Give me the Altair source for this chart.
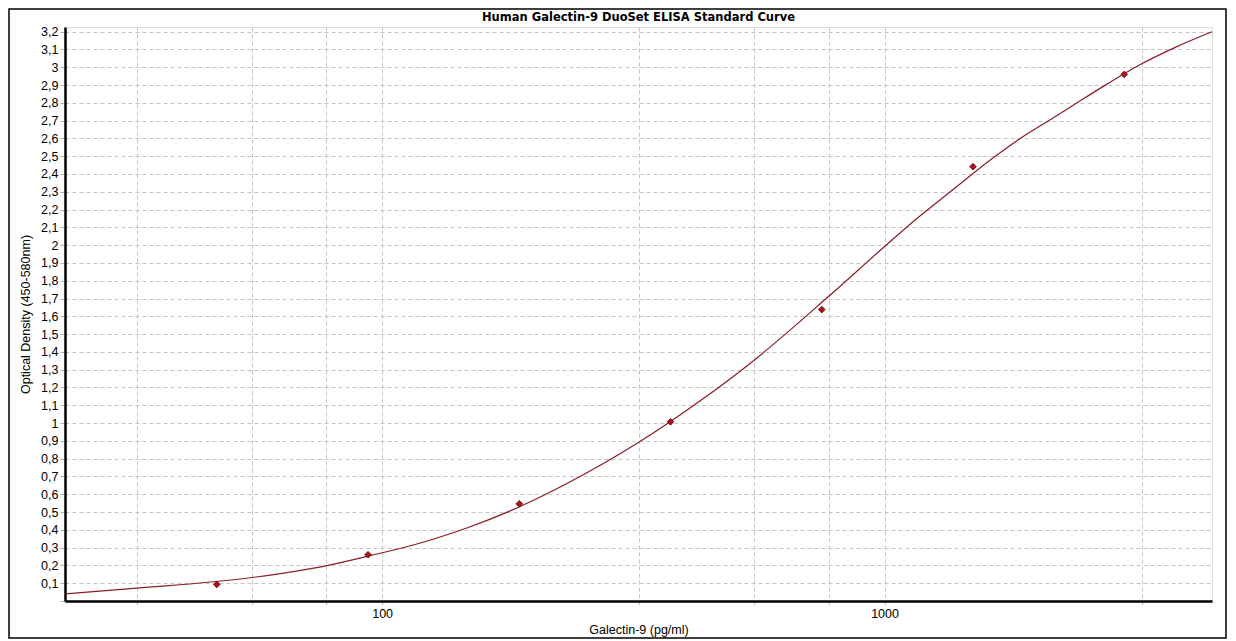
import altair as alt
import pandas as pd

# Standards (concentration pg/ml, OD)
std_conc = [46.875, 93.75, 187.5, 375, 750, 1500, 3000]
std_od = [0.093, 0.260, 0.546, 1.007, 1.638, 2.441, 2.960]

# Fitted curve
curve_conc = [23.4, 32.5, 55.1, 77.7, 100, 108.6, 147.4, 187.2, 233.2, 326, 429.7,
              551, 773.5, 1000, 1160, 1291, 1415, 1648, 1863, 2137, 2416, 2772, 3229, 3800, 4485]
curve_od = [0.040, 0.072, 0.132, 0.199, 0.271, 0.295, 0.410, 0.528, 0.660, 0.896, 1.125,
            1.355, 1.711, 1.992, 2.150, 2.255, 2.345, 2.492, 2.600, 2.705, 2.800, 2.905, 3.015, 3.113, 3.199]

x_grid = [32.5, 55, 77.5, 100, 325, 550, 775, 1000, 3250]
y_ticks = [round(0.1 * i, 1) for i in range(0, 33)]

title = "Human Galectin-9 DuoSet ELISA Standard Curve"
x_title = "Galectin-9 (pg/ml)"
y_title = "Optical Density (450-580nm)"

pts = pd.DataFrame({"conc": std_conc, "od": std_od})
crv = pd.DataFrame({"conc": curve_conc, "od": curve_od})

W, H = 1147, 574
xdom = [23.38, 4485]
ydom = [0, 3.226]

xscale = alt.Scale(type="log", domain=xdom, nice=False, zero=False)
yscale = alt.Scale(domain=ydom, nice=False, zero=False)

label_expr_x = "indexof([100,1000], datum.value) >= 0 ? format(datum.value, 'd') : ''"
label_expr_y = "datum.value == 0 ? '' : replace(format(datum.value, '.1~f'), '.', ',')"


def x_axis():
    return alt.Axis(values=x_grid, labelExpr=label_expr_x, grid=True, gridDash=[4, 3],
                    gridColor="#c4c4c4", gridWidth=1, domainColor="#000000", domainWidth=2.5,
                    tickColor="#b0b0b0", tickSize=3, labelFont="Liberation Sans", labelFontSize=12.5,
                    labelColor="#000000", labelPadding=3, labelOverlap=False, labelFlush=False,
                    title=x_title, titleFont="Liberation Sans", titleFontSize=12.5,
                    titleFontWeight="normal", titleColor="#000000", titlePadding=4)


def y_axis():
    return alt.Axis(values=y_ticks, labelExpr=label_expr_y, grid=True, gridDash=[4, 3],
                    gridColor="#c4c4c4", gridWidth=1, domainColor="#000000", domainWidth=2.5,
                    tickColor="#b0b0b0", tickSize=5, labelFont="Liberation Sans", labelFontSize=12.5,
                    labelColor="#000000", labelPadding=2, labelOverlap=False, labelFlush=False,
                    tickCount=33, title=y_title, titleFont="Liberation Sans", titleFontSize=12.5,
                    titleFontWeight="normal", titleColor="#000000", titlePadding=8)


line = alt.Chart(crv).mark_line(color="#8b1c24", strokeWidth=1.2, interpolate="monotone").encode(
    x=alt.X("conc:Q", scale=xscale, axis=x_axis()),
    y=alt.Y("od:Q", scale=yscale, axis=y_axis()),
)

points = alt.Chart(pts).mark_point(shape="diamond", filled=True, size=45, color="#b0101c",
                                   stroke="#5a0a0a", strokeWidth=0.8, opacity=1).encode(
    x=alt.X("conc:Q", scale=xscale, axis=x_axis()),
    y=alt.Y("od:Q", scale=yscale, axis=y_axis()),
)

title_mark = alt.Chart(pd.DataFrame({"t": [title]})).mark_text(
    font="DejaVu Sans", fontSize=11.5, fontWeight="bold", color="#000000",
    align="center", baseline="middle"
).encode(text="t:N", x=alt.value(W / 2), y=alt.value(-9))

frame = alt.Chart(pd.DataFrame({"a": [0]})).mark_rect(fill=None, stroke="#000000", strokeWidth=1.5).encode(
    x=alt.value(-56), x2=alt.value(W + 14), y=alt.value(-18), y2=alt.value(H + 37)
)

chart = alt.layer(line, points, title_mark, frame).properties(
    width=W, height=H,
    padding={"left": 57, "top": 19, "right": 15, "bottom": 38},
    autosize=alt.AutoSizeParams(type="none"),
).configure_view(stroke=None).configure(background="#ffffff")

chart.save("out.html", embed_options={"renderer": "svg", "actions": False})
